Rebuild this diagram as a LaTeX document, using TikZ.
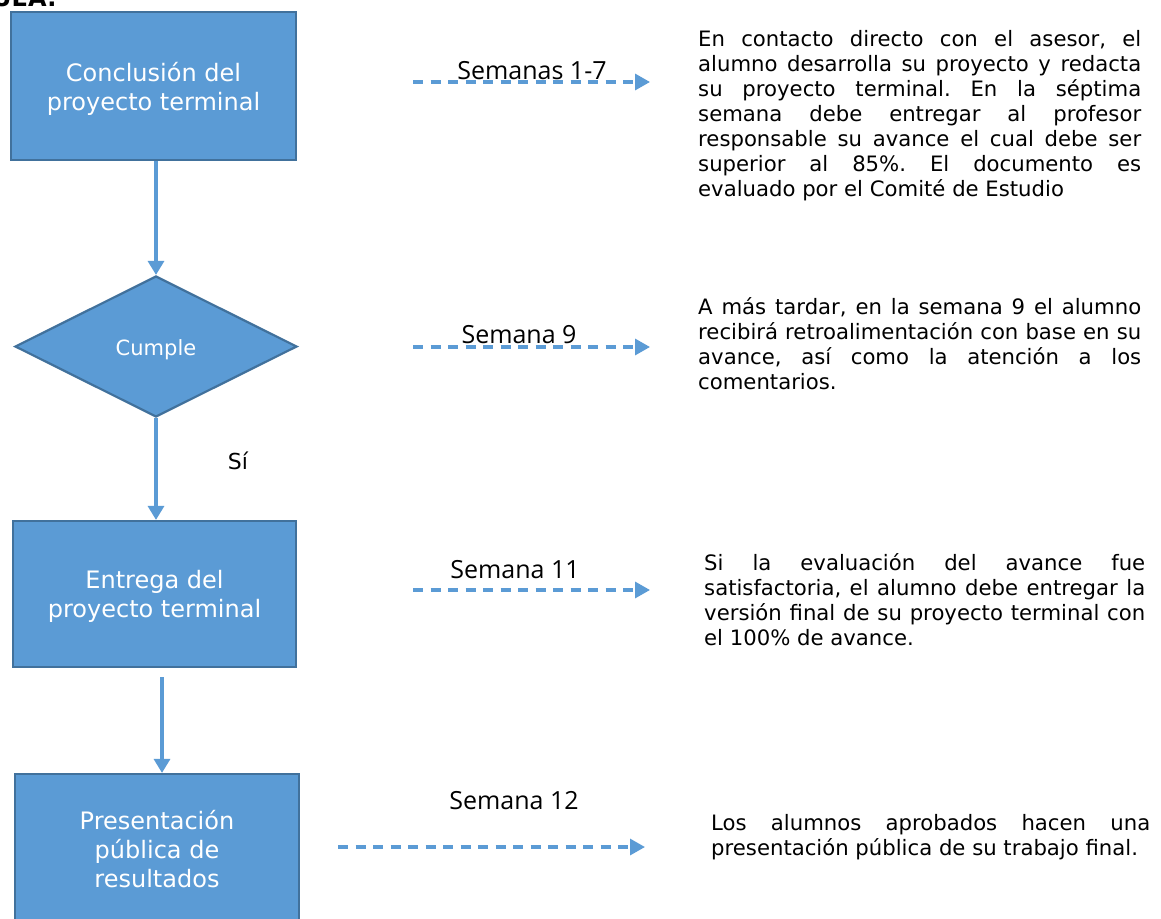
\documentclass[tikz,border=0pt]{standalone}
\usepackage{fontspec}
\setmainfont{DejaVu Sans}
\newfontfamily\labfont{Open Sans}
\usetikzlibrary{shapes.geometric,arrows.meta}
\definecolor{boxfill}{HTML}{5B9BD5}
\definecolor{boxline}{HTML}{41719C}
\definecolor{arrowc}{HTML}{5B9BD5}
% pad the top of a node's content so that it sits lower (#1 = extra height)
\newcommand\padtop[2]{\raisebox{0pt}[\dimexpr\height+#1\relax][\depth]{#2}}
\tikzset{
  box/.style={draw=boxline, line width=2.2pt, fill=boxfill, text=white, align=center,
    inner sep=0pt, font=\fontsize{24}{29}\selectfont},
  decision/.style={diamond, draw=boxline, line width=2.2pt, fill=boxfill, text=white,
    inner sep=0pt, font=\fontsize{21}{25}\selectfont},
  conn/.style={draw=arrowc, line width=3.2pt, -{Triangle[length=14pt,width=16pt]}},
  dconn/.style={draw=arrowc, line width=3.2pt, dash pattern=on 10pt off 7.5pt,
    -{Triangle[length=15pt,width=16pt]}},
  lab/.style={font=\labfont\fontsize{25}{30}\selectfont, inner sep=0pt},
  para/.style={font=\frenchspacing\fontsize{21.2}{25}\selectfont, align=justify, inner sep=0pt,
    anchor=north west},
}
\begin{document}
\begin{tikzpicture}[x=1pt,y=-1pt]
\useasboundingbox (0,0) rectangle (1161,918);
\fill[white] (0,0) rectangle (1161,918);

% cut-off heading fragment
\node[font=\bfseries\fontsize{24}{24}\selectfont, anchor=base west, inner sep=0pt] (hdr) at (-8,6) {UEA:};

% flow nodes
\node[box, minimum width=285pt, minimum height=148pt] (b1) at (153.5,86)
  {\padtop{8pt}{\begin{tabular}{@{}c@{}}Conclusión del\\proyecto terminal\end{tabular}}};
\node[decision, minimum width=282pt, minimum height=141pt] (d) at (156,346.5) {\padtop{6pt}{Cumple}};
\node[box, minimum width=283pt, minimum height=146pt] (b2) at (154.5,594)
  {\padtop{6pt}{\begin{tabular}{@{}c@{}}Entrega del\\proyecto terminal\end{tabular}}};
\node[box, minimum width=284pt, minimum height=150pt] (b3) at (157,849) {Presentación\\pública de\\resultados};

% solid connectors
\draw[conn] (b1.south -| d.north) -- (d.north);
\draw[conn] (d.south) -- (b2.north -| d.south);
\coordinate (s3) at ([xshift=7.5pt,yshift=-9pt]b2.south);
\draw[conn] (s3) -- (s3 |- b3.north);

\node[font=\fontsize{22}{26}\selectfont, anchor=base, inner sep=0pt] (si) at (238,469) {Sí};

% dashed timeline arrows
\coordinate (a1s) at (413,82);  \coordinate (a1e) at (650,82);
\coordinate (a2s) at (413,347); \coordinate (a2e) at (650,347);
\coordinate (a3s) at (413,590); \coordinate (a3e) at (650,590);
\coordinate (a4s) at (338,847); \coordinate (a4e) at (645,847);
\draw[dconn] (a1s) -- (a1e);
\draw[dconn] (a2s) -- (a2e);
\draw[dconn] (a3s) -- (a3e);
\draw[dconn] (a4s) -- (a4e);

\node[lab, anchor=base] (l1) at (532,79) {Semanas 1-7};
\node[lab, anchor=base] (l2) at (519,343) {Semana 9};
\node[lab, anchor=base] (l3) at (515,578) {Semana 11};
\node[lab, anchor=base] (l4) at (514,809) {Semana 12};

% descriptions
\node[para, text width=443pt] (p1) at (698,30) {En contacto directo con el asesor, el\linebreak
alumno desarrolla su proyecto y redacta\linebreak
su proyecto terminal. En la séptima\linebreak
semana debe entregar al profesor\linebreak
responsable su avance el cual debe ser\linebreak
superior al 85\%. El documento es\linebreak
evaluado por el Comité de Estudio};

\node[para, text width=443pt] (p2) at (698,297) {A más tardar, en la semana 9 el alumno\linebreak
recibirá retroalimentación con base en su\linebreak
avance, así como la atención a los\linebreak
comentarios.};

\node[para, text width=441pt] (p3) at (704,553) {Si la evaluación del avance fue\linebreak
satisfactoria, el alumno debe entregar la\linebreak
versión final de su proyecto terminal con\linebreak
el 100\% de avance.};

\node[para, text width=439pt] (p4) at (711,814) {Los alumnos aprobados hacen una\linebreak
presentación pública de su trabajo final.};
\end{tikzpicture}
\end{document}
